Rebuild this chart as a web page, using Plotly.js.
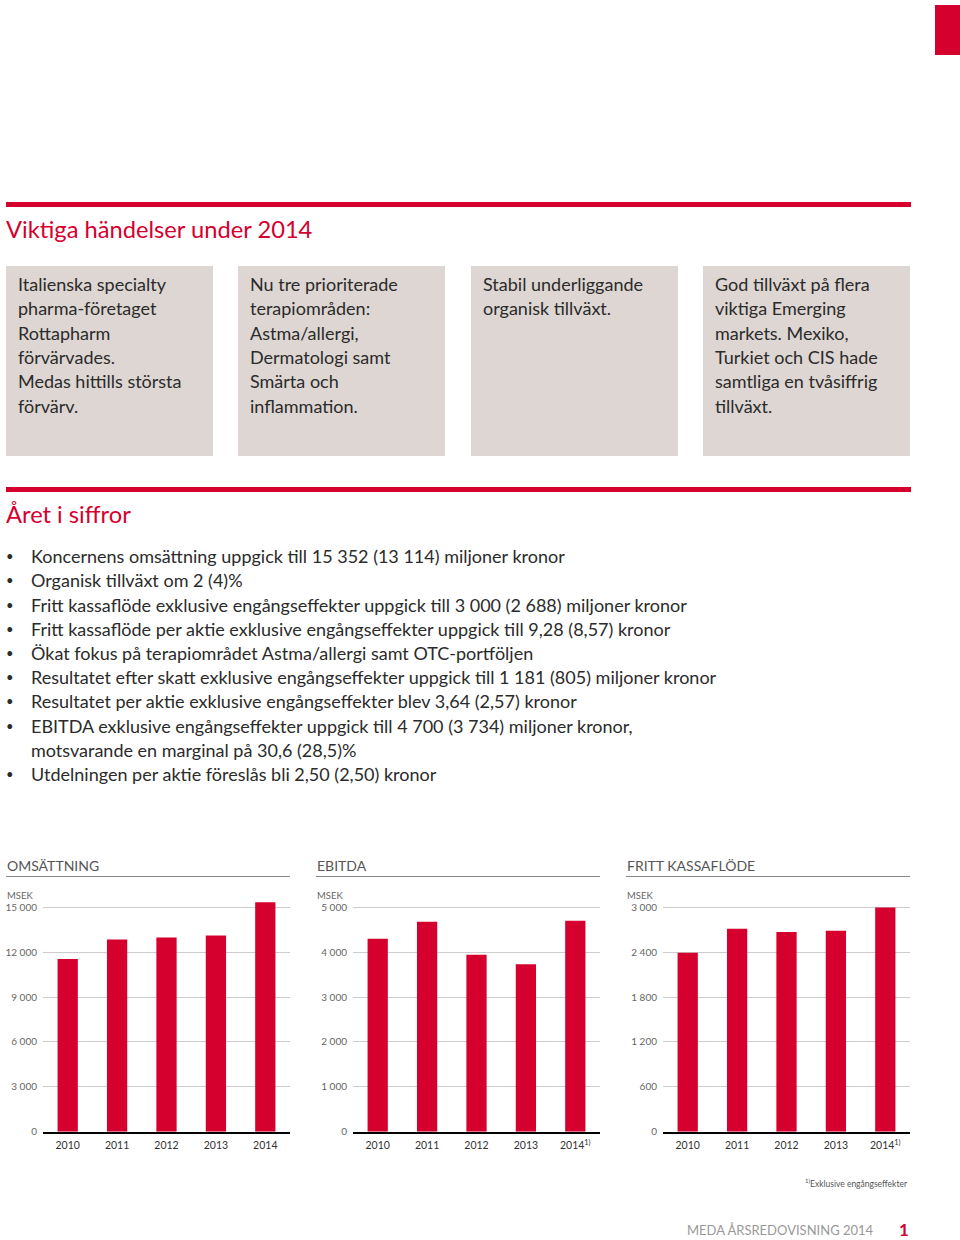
<!DOCTYPE html>
<html>
<head>
<meta charset="utf-8">
<script src="https://cdn.plot.ly/plotly-3.0.1.min.js"></script>
<style>html,body{margin:0;padding:0;background:#fff;}#chart{width:960px;height:1240px;}</style>
</head>
<body>
<div id="chart"></div>
<script>
// ---- data ----
var years = ['2010', '2011', '2012', '2013', '2014'];
var yearsFootnote = ['2010', '2011', '2012', '2013', '2014<sup>1)</sup>'];
var omsattning = [11550, 12856, 12991, 13114, 15352];
var ebitda = [4300, 4680, 3945, 3734, 4700];
var kassaflode = [2395, 2715, 2670, 2688, 3000];

var omsTickVals = [0, 3000, 6000, 9000, 12000, 15000];
var omsTickText = ['0', '3 000', '6 000', '9 000', '12 000', '15 000'];
var ebitdaTickVals = [0, 1000, 2000, 3000, 4000, 5000];
var ebitdaTickText = ['0', '1 000', '2 000', '3 000', '4 000', '5 000'];
var kassaTickVals = [0, 600, 1200, 1800, 2400, 3000];
var kassaTickText = ['0', '600', '1 200', '1 800', '2 400', '3 000'];

var chartTitles = ['OMSÄTTNING', 'EBITDA', 'FRITT KASSAFLÖDE'];
var unitLabel = 'MSEK';
var footnote = '<sup>1)</sup>Exklusive engångseffekter';

var heading1 = 'Viktiga händelser under 2014';
var boxTexts = [
  ['Italienska specialty', 'pharma-företaget', 'Rottapharm', 'förvärvades.', 'Medas hittills största', 'förvärv.'],
  ['Nu tre prioriterade', 'terapiområden:', 'Astma/allergi,', 'Dermatologi samt', 'Smärta och', 'inflammation.'],
  ['Stabil underliggande', 'organisk tillväxt.'],
  ['God tillväxt på flera', 'viktiga Emerging', 'markets. Mexiko,', 'Turkiet och CIS hade', 'samtliga en tvåsiffrig', 'tillväxt.']
];
var heading2 = 'Året i siffror';
var bulletLines = [
  {b: true, t: 'Koncernens omsättning uppgick till 15 352 (13 114) miljoner kronor'},
  {b: true, t: 'Organisk tillväxt om 2 (4)%'},
  {b: true, t: 'Fritt kassaflöde exklusive engångseffekter uppgick till 3 000 (2 688) miljoner kronor'},
  {b: true, t: 'Fritt kassaflöde per aktie exklusive engångseffekter uppgick till 9,28 (8,57) kronor'},
  {b: true, t: 'Ökat fokus på terapiområdet Astma/allergi samt OTC-portföljen'},
  {b: true, t: 'Resultatet efter skatt exklusive engångseffekter uppgick till 1 181 (805) miljoner kronor'},
  {b: true, t: 'Resultatet per aktie exklusive engångseffekter blev 3,64 (2,57) kronor'},
  {b: true, t: 'EBITDA exklusive engångseffekter uppgick till 4 700 (3 734) miljoner kronor,'},
  {b: false, t: 'motsvarande en marginal på 30,6 (28,5)%'},
  {b: true, t: 'Utdelningen per aktie föreslås bli 2,50 (2,50) kronor'}
];
var footerText = 'MEDA ÅRSREDOVISNING 2014';
var pageNumber = '1';

// ---- style / layout helpers ----
var W = 960, H = 1240;
function px(x) { return x / W; }
function py(y) { return 1 - y / H; }
var RED = '#d6002f';
var FONT = 'Lato, "Open Sans", sans-serif';
var TEXT = '#2b2b2b';

var shapes = [];
var annotations = [];
function rect(x0, y0, x1, y1, color) {
  shapes.push({type: 'rect', xref: 'paper', yref: 'paper', x0: px(x0), x1: px(x1), y0: py(y1), y1: py(y0),
    fillcolor: color, line: {width: 0}, layer: 'below'});
}
function hline(x0, x1, y, color, w) {
  shapes.push({type: 'line', xref: 'paper', yref: 'paper', x0: px(x0), x1: px(x1), y0: py(y), y1: py(y),
    line: {color: color, width: w}});
}
function txt(x, y, s, size, color, opts) {
  opts = opts || {};
  annotations.push({xref: 'paper', yref: 'paper', x: px(x), y: py(y), text: s, showarrow: false,
    xanchor: opts.xanchor || 'left', yanchor: 'middle', align: opts.xanchor === 'right' ? 'right' : 'left',
    font: {family: opts.family || FONT, size: size, color: color, weight: opts.weight || 'normal'}});
}

// top right tab
rect(935, 5, 960, 55, RED);

// section 1
rect(6, 202, 911, 207, RED);
txt(4, 229, heading1, 23.7, RED);
var boxX = [6, 238, 471, 703];
var lineY = [284, 308.3, 332.6, 356.9, 381.2, 405.5];
boxTexts.forEach(function (lines, i) {
  rect(boxX[i], 266, boxX[i] + 207, 456, '#ddd6d2');
  lines.forEach(function (l, j) { txt(boxX[i] + 10, lineY[j], l, 18, TEXT); });
});

// section 2
rect(6, 487, 911, 492, RED);
txt(4, 514, heading2, 23.7, RED);
bulletLines.forEach(function (o, i) {
  var y = 556 + i * 24.25;
  if (o.b) txt(4, y, '•', 13, TEXT);
  txt(29, y, o.t, 18, TEXT);
});

// charts
var chartX = [0, 310, 620];
var series = [omsattning, ebitda, kassaflode];
var tickVals = [omsTickVals, ebitdaTickVals, kassaTickVals];
var tickText = [omsTickText, ebitdaTickText, kassaTickText];
var xLabels = [years, yearsFootnote, yearsFootnote];
var maxTick = [15000, 5000, 3000];

var data = [];
var layout = {
  width: W, height: H, margin: {l: 0, r: 0, t: 0, b: 0},
  paper_bgcolor: '#fff', plot_bgcolor: 'rgba(0,0,0,0)', showlegend: false,
  font: {family: FONT}, bargap: 0.6
};
var y0px = 1131.7, pxFull = 224.3, ext = 1.04;
chartX.forEach(function (ox, i) {
  var n = i === 0 ? '' : String(i + 1);
  data.push({type: 'bar', x: xLabels[i], y: series[i], xaxis: 'x' + n, yaxis: 'y' + n,
    marker: {color: RED, line: {width: 0}}, width: 0.41, hoverinfo: 'skip'});
  layout['xaxis' + n] = {
    domain: [px(ox + 43), px(ox + 290)], anchor: 'y' + n, type: 'category',
    range: [-0.5, 4.5], showgrid: false, zeroline: false,
    showline: true, linecolor: '#000', linewidth: 2, ticks: '', ticklabelstandoff: 3,
    tickfont: {size: 10.5, color: '#333', family: FONT}, fixedrange: true
  };
  layout['yaxis' + n] = {
    domain: [1 - y0px / H, 1 - (y0px - pxFull * ext) / H], anchor: 'x' + n,
    range: [0, maxTick[i] * ext], tickvals: tickVals[i], ticktext: tickText[i],
    showgrid: true, gridcolor: '#cccccc', gridwidth: 1, zeroline: false, showline: false,
    ticks: '', ticklabelstandoff: 5,
    tickfont: {size: 10, color: '#666', family: FONT}, fixedrange: true
  };
  txt(ox + 5, 865, chartTitles[i], 14, '#555');
  hline(ox + 6, ox + 290, 876.5, '#888', 1);
  txt(ox + 5, 895, unitLabel, 9.5, '#666');
});

txt(910, 1183, footnote, 8.5, '#555', {xanchor: 'right'});
txt(876, 1230, footerText, 13, '#999', {xanchor: 'right'});
txt(911, 1229, pageNumber, 17, RED, {xanchor: 'right', weight: 'bold'});

layout.shapes = shapes;
layout.annotations = annotations;

Plotly.newPlot('chart', data, layout, {staticPlot: true, displayModeBar: false});
</script>
</body>
</html>
